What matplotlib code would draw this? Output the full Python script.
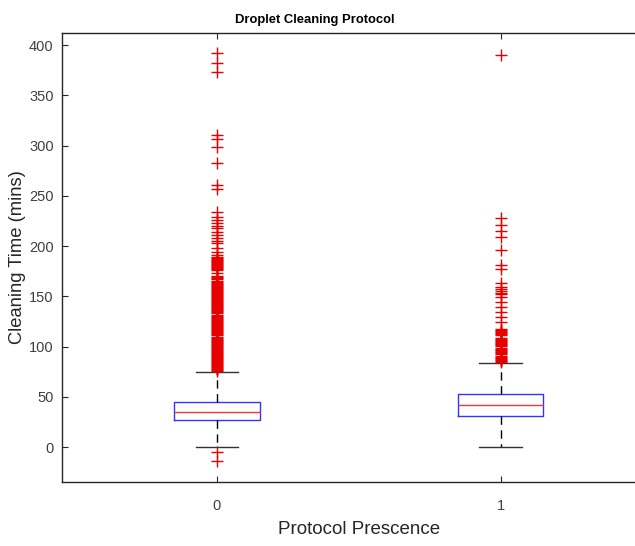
import matplotlib
matplotlib.use("Agg")
import matplotlib.pyplot as plt

plt.rcParams['font.family'] = ['Liberation Sans', 'DejaVu Sans']

# ---- data ----
groups = ["0", "1"]
medians = [35, 42]
q1s = [26.5, 31]
q3s = [45, 52.5]
whisker_lo = [0, 0]
whisker_hi = [75, 84]

fliers_0 = [392, 382, 373, 311, 307, 299, 283, 261, 257, 234, 229, 226, 223, 220, 218,
            214, 211, 208, 205, 203, 198, 194, 191,
            189, 188, 187, 186, 185, 184, 183, 182, 181, 180, 179, 178, 177, 176,
            173, 170, 169, 168, 167, 165, 164, 163, 162, 161, 160,
            159, 158, 157, 156, 155, 154, 153, 152, 151, 150, 149, 148, 147, 146, 145,
            144, 143, 142, 141, 140, 139, 138, 137, 136, 135, 134, 133, 131, 130,
            129, 128, 127, 126, 125, 124, 123, 122, 121, 120, 119, 118, 117, 116, 115,
            114, 113, 112, 111, 110, 109, 108, 107, 106, 105, 104, 103, 102, 101, 100,
            99, 98, 97, 96, 95, 94, 93, 92, 91, 90, 89, 88, 87, 86, 85,
            84, 83, 82, 81, 80, 79, 78, 77, 76, -5, -14]
fliers_1 = [390, 228, 221, 215, 209, 196, 181, 177, 163, 159, 157, 155, 153, 152,
            149, 144, 139, 134, 129, 124,
            117, 116, 115, 114, 113, 112, 111, 109, 108, 107, 106, 105, 104, 103, 102,
            101, 99, 98, 97, 96, 95, 94, 93, 91, 90, 89, 88, 87, 86, 85]
fliers = [fliers_0, fliers_1]

yticks = [0, 50, 100, 150, 200, 250, 300, 350, 400]

title = "Droplet Cleaning Protocol"
xlabel = "Protocol Prescence"
ylabel = "Cleaning Time (mins)"

# ---- figure ----
fig = plt.figure(figsize=(6.35, 5.46), dpi=100)
ax = fig.add_axes([0.0976, 0.1172, 0.935, 0.8223])

stats = []
for i in range(len(groups)):
    stats.append(dict(med=medians[i], q1=q1s[i], q3=q3s[i],
                      whislo=whisker_lo[i], whishi=whisker_hi[i],
                      fliers=fliers[i], label=groups[i]))

ax.bxp(stats, positions=[0, 1], widths=0.30, capwidths=0.15,
       boxprops=dict(color=(0.2, 0.2, 1), linewidth=1.0),
       medianprops=dict(color=(1, 0.2, 0.2), linewidth=1.0),
       whiskerprops=dict(color='black', linestyle=(0, (6, 4)), linewidth=1.0),
       capprops=dict(color=(0.2, 0.2, 0.2), linewidth=1.0),
       flierprops=dict(marker='+', markeredgecolor=(0.9, 0, 0), markersize=8,
                       markeredgewidth=1.0, linestyle='none'))

ax.set_xlim(-0.546, 1.546)
ax.set_ylim(-34.8, 412)
ax.set_yticks(yticks)
ax.set_xticks([0, 1])
ax.set_xticklabels(groups)

axcol = (0.15, 0.15, 0.15)
for s in ax.spines.values():
    s.set_color(axcol)
    s.set_linewidth(1.0)
ax.tick_params(direction='in', length=4.5, width=0.8, colors=axcol,
               labelsize=10.5, top=True, right=True)
ax.tick_params(axis='both', labelcolor=(0.25, 0.25, 0.25))
ax.tick_params(axis='x', pad=12)
ax.tick_params(axis='y', pad=6)

ax.set_title(title, fontsize=9.4, fontweight='bold', color='black', pad=7, x=0.426)
ax.set_xlabel(xlabel, fontsize=13.5, color=axcol, labelpad=6)
ax.set_ylabel(ylabel, fontsize=13.2, color=axcol, labelpad=2)

fig.savefig("out.png", dpi=100, facecolor='white')
